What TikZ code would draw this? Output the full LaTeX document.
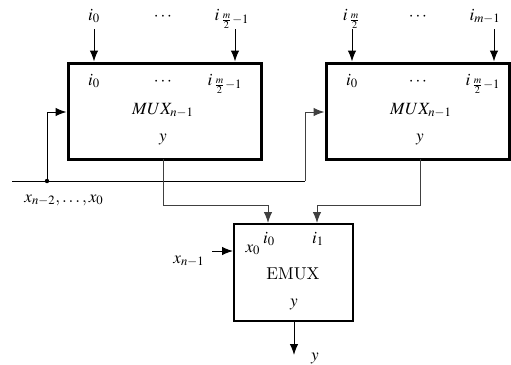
\documentclass[tikz,border=0pt]{standalone}
\usepackage{mathptmx}
\usetikzlibrary{arrows.meta,fit}
\begin{document}
\begin{tikzpicture}[x=0.6pt,y=-0.6pt,
  font=\fontsize{10.3}{12}\selectfont,
  wire/.style={line width=0.6pt},
  gwire/.style={line width=0.6pt,black!75},
  arr/.style={wire,-{Latex[length=6.5pt,width=5pt]}},
  garr/.style={gwire,-{Latex[length=6.5pt,width=5pt]}},
  bigbox/.style={draw,line width=1.8pt,inner sep=0pt},
  midbox/.style={draw,line width=1.2pt,inner sep=0pt},
  lbl/.style={inner sep=0pt,anchor=base}]
\useasboundingbox (0,0) rectangle (511,364);

% boxes
\node[bigbox,fit={(68,63) (261,159)}] (m1) {};
\node[bigbox,fit={(326,63) (509,159)}] (m2) {};
\node[midbox,fit={(234,224) (353,321)}] (em) {};

% top labels, box 1
\node[lbl] (t10) at (94,20) {$i_0$};
\node[lbl] (t1d) at (163,20) {$\cdots$};
\node[lbl] (t1m) at (232,20) {$i_{\,\frac{m}{2}-1}$};
% top labels, box 2
\node[lbl] (t20) at (352,20) {$i_{\,\frac{m}{2}}$};
\node[lbl] (t2d) at (418,20) {$\cdots$};
\node[lbl] (t2m) at (485,20) {$i_{m-1}$};

% inside labels, box 1
\node[lbl] (a10) at (94,85) {$i_0$};
\node[lbl] (a1d) at (163,85) {$\cdots$};
\node[lbl] (a1m) at (225,85) {$i_{\,\frac{m}{2}-1}$};
\node[lbl] (a1n) at (163,114) {$MUX_{n-1}$};
\node[lbl] (a1y) at (163,141) {$y$};
% inside labels, box 2
\node[lbl] (a20) at (352,85) {$i_0$};
\node[lbl] (a2d) at (418,85) {$\cdots$};
\node[lbl] (a2m) at (483,85) {$i_{\,\frac{m}{2}-1}$};
\node[lbl] (a2n) at (421,114) {$MUX_{n-1}$};
\node[lbl] (a2y) at (420,141) {$y$};
% EMUX labels
\node[lbl] (e0) at (269,243) {$i_0$};
\node[lbl] (e1) at (318,243) {$i_1$};
\node[lbl] (ex) at (253,252) {$x_0$};
\node[lbl] (en) at (293,279) {EMUX};
\node[lbl] (ey) at (294,306) {$y$};
% outside labels
\node[lbl] (sel) at (64,202) {$x_{n-2},\ldots,x_0$};
\node[lbl] (xn) at (189,263) {$x_{n-1}$};
\node[lbl] (yo) at (315,360) {$y$};

% top input arrows
\coordinate (s10) at (94,29);
\coordinate (s1m) at (235,29);
\coordinate (s20) at (352,29);
\coordinate (s2m) at (494,29);
\draw[arr] (s10) -- (s10 |- m1.north);
\draw[arr] (s1m) -- (s1m |- m1.north);
\draw[arr] (s20) -- (s20 |- m2.north);
\draw[arr] (s2m) -- (s2m |- m2.north);

% select bus
\coordinate (b0) at (12,181);
\coordinate (bd) at (47,181);
\coordinate (b1) at (305,181);
\draw[wire] (b0) -- (b1);
\fill (bd) circle (2.2);
\draw[arr] (bd) -- (47,112) -- (47,112 -| m1.west);
\draw[garr] (b1) -- (305,112) -- (305,112 -| m2.west);

% outputs of MUXes to EMUX
\coordinate (o1) at (163,159);
\coordinate (o2) at (420,159);
\draw[garr] (o1) -- (163,205) -- (268,205) -- (268,205 |- em.north);
\draw[garr] (o2) -- (420,205) -- (317,205) -- (317,205 |- em.north);

% x_{n-1} input
\coordinate (xi) at (212,251);
\draw[arr] (xi) -- (xi -| em.west);

% EMUX output
\coordinate (ys) at (294,321);
\coordinate (yend) at (294,355);
\draw[arr] (ys) -- (yend);
\end{tikzpicture}
\end{document}
